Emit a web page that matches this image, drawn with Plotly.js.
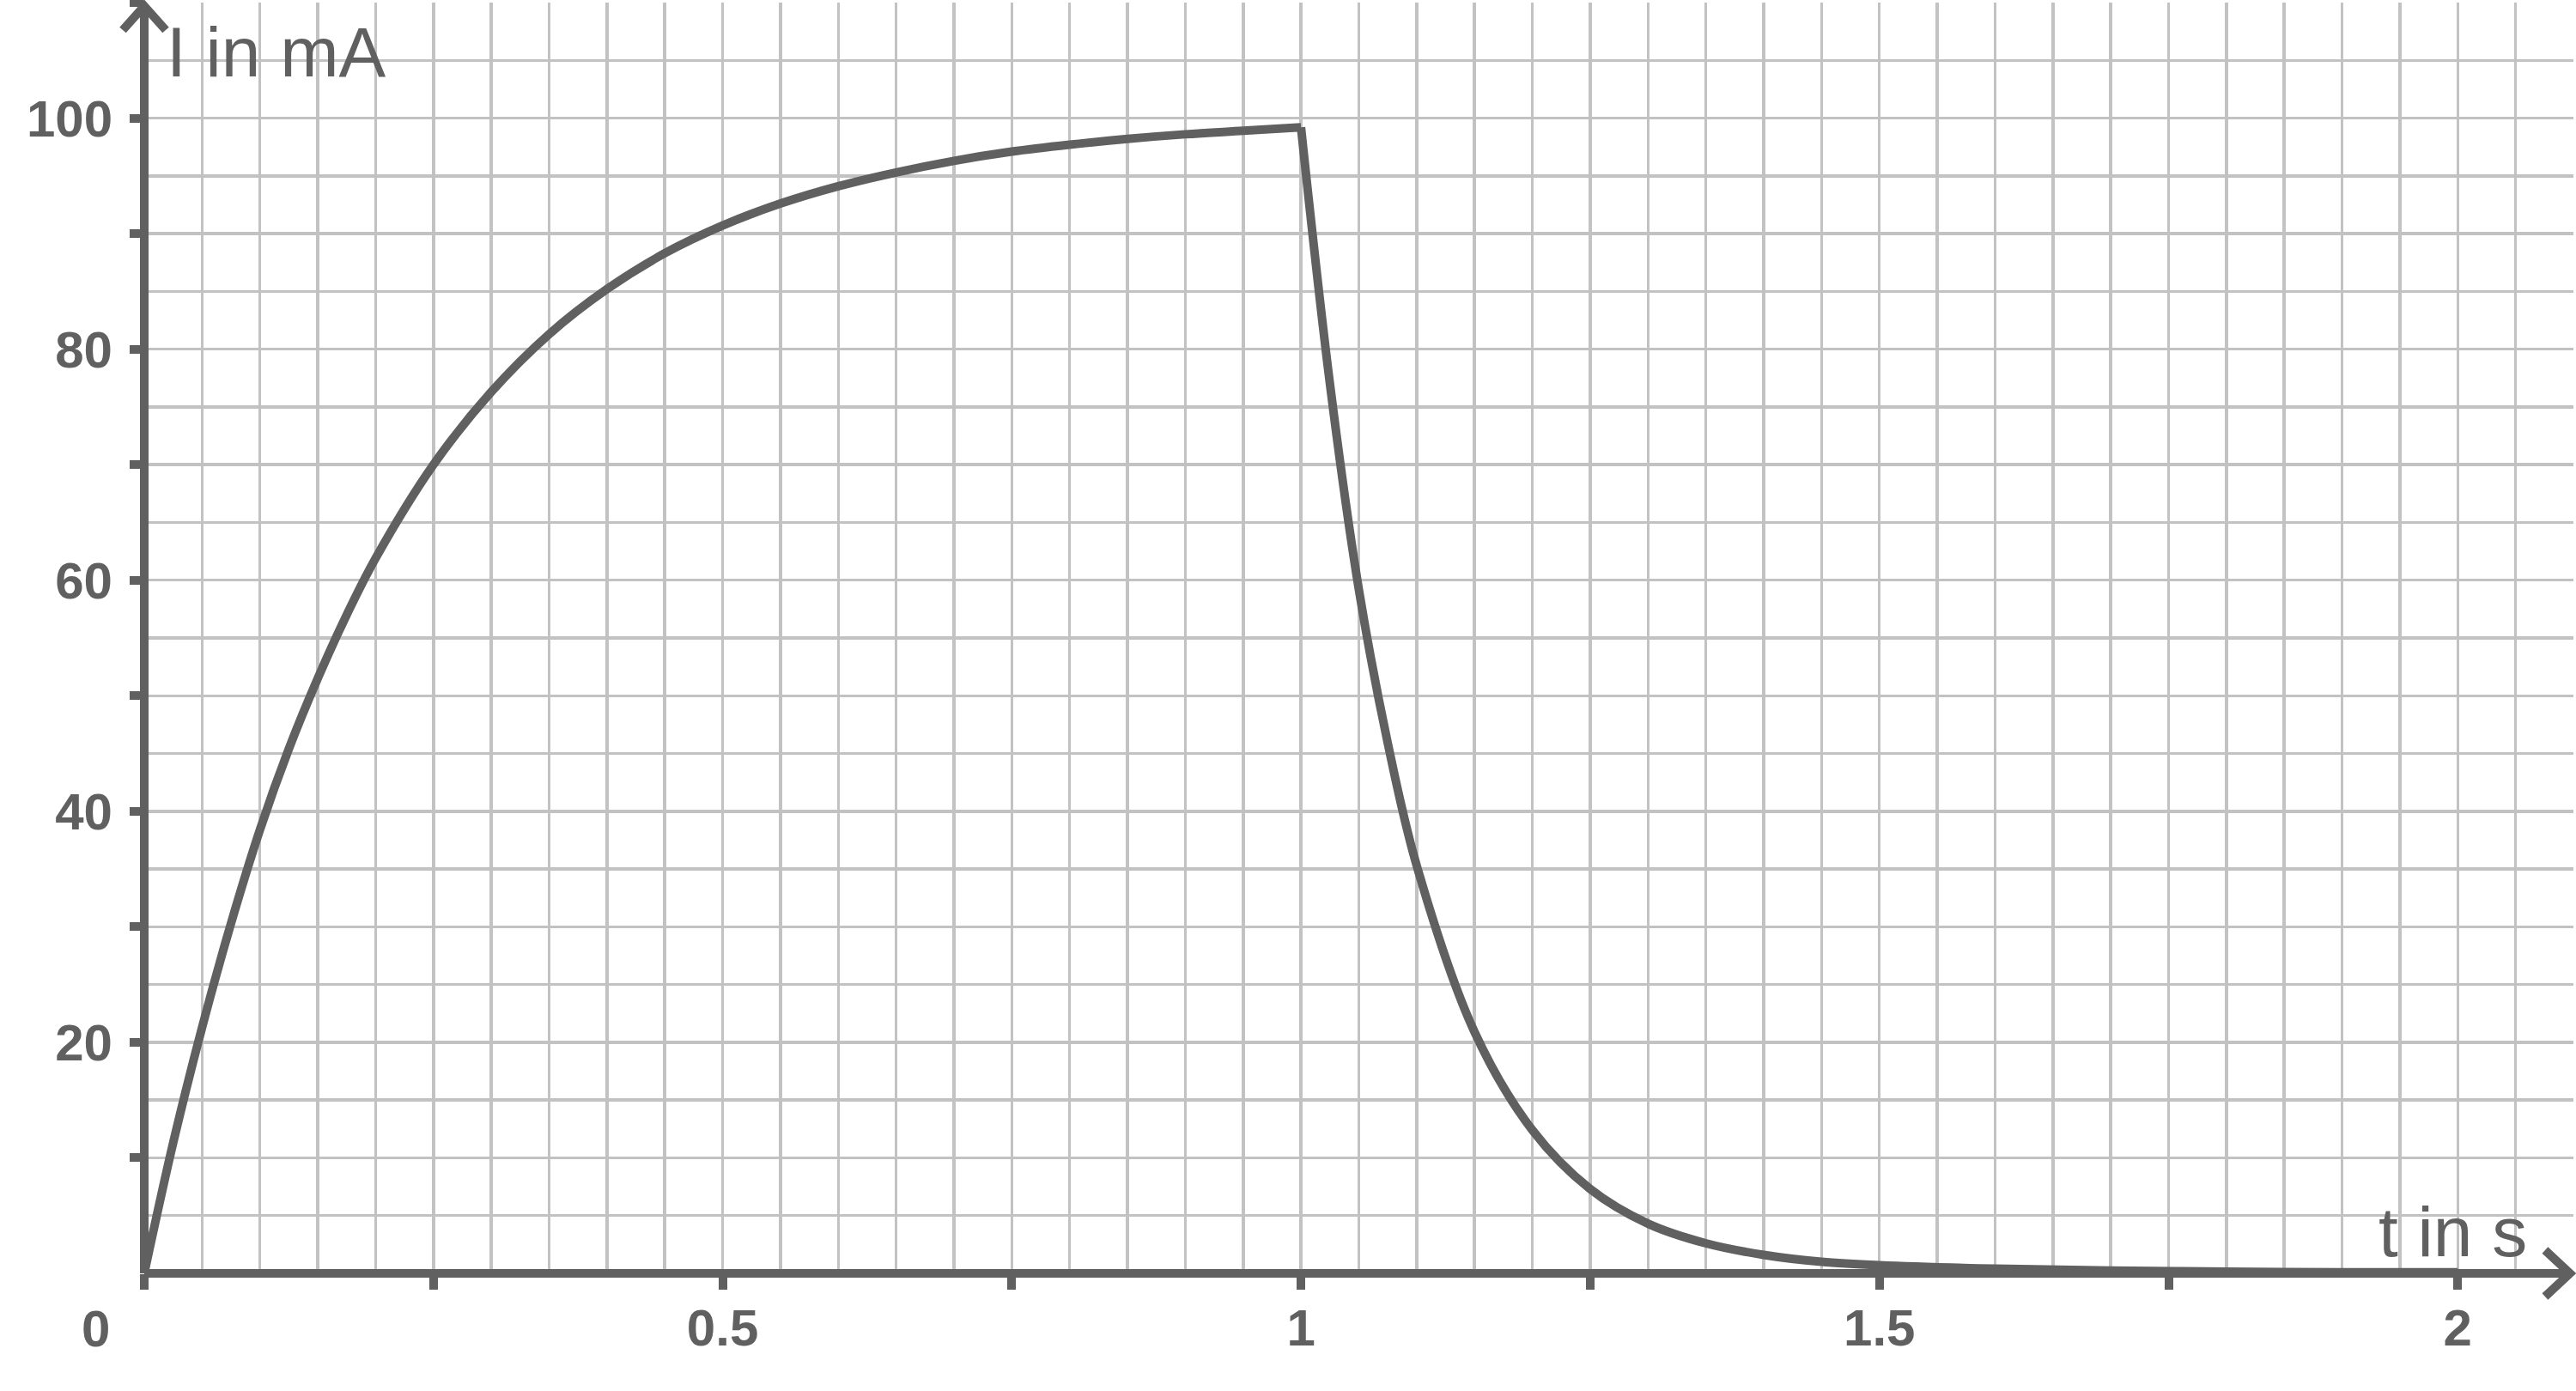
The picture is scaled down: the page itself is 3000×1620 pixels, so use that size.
<!DOCTYPE html>
<html>
<head>
<meta charset="utf-8">
<script src="https://cdn.plot.ly/plotly-3.0.1.min.js"></script>
<style>
  html, body { margin: 0; padding: 0; background: #ffffff; }
  #myPlot { width: 3000px; height: 1620px; }
</style>
</head>
<body>
<div id="myPlot"></div>
<script>
// current while the switch is closed (t in s, I in mA)
const chargeT = [0, 0.025, 0.05, 0.075, 0.1, 0.125, 0.15, 0.175, 0.2, 0.25, 0.3, 0.35, 0.4,
                 0.45, 0.5, 0.55, 0.6, 0.65, 0.7, 0.75, 0.8, 0.85, 0.9, 0.95, 1.0];
const chargeI = [0, 11.3, 21.3, 30.3, 38.4, 45.4, 51.5, 57.0, 61.9, 70.0, 76.3, 81.3, 85.2,
                 88.3, 90.7, 92.6, 94.1, 95.3, 96.3, 97.1, 97.7, 98.2, 98.6, 98.9, 99.2];

// current after switching off
const dischargeT = [1.0, 1.025, 1.05, 1.075, 1.1, 1.15, 1.2, 1.25, 1.3, 1.35, 1.4,
                    1.45, 1.5, 1.6, 1.7, 1.8, 1.9, 2.0];
const dischargeI = [99.2, 77.0, 59.2, 45.9, 35.3, 20.9, 12.4, 7.3, 4.3, 2.6, 1.6,
                    1.0, 0.7, 0.4, 0.25, 0.15, 0.1, 0.1];

// axis ticks and labels
const xTickVals = [0, 0.25, 0.5, 0.75, 1, 1.25, 1.5, 1.75, 2];
const xTickText = ['', '', '0.5', '', '1', '', '1.5', '', '2'];
const yTickVals = [10, 20, 30, 40, 50, 60, 70, 80, 90, 100, 110];
const yTickText = ['', '20', '', '40', '', '60', '', '80', '', '100', ''];

const X_MAX = 2.1;
const Y_MAX = 110;
const X_TIP = 2.097;   // arrow tip of the t axis
const Y_TIP = 109.7;   // arrow tip of the I axis

const GREY = '#606060';
const GRID = '#c2c2c2';

// plot area size in px (used to turn arrow wing lengths into paper units)
const margin = { l: 168, r: 3, t: 3, b: 137 };
const plotW = 3000 - margin.l - margin.r;
const plotH = 1620 - margin.t - margin.b;

const lineStyle = { color: GREY, width: 10, shape: 'spline', smoothing: 1 };

let trace1 = {
    x: chargeT,
    y: chargeI,
    mode: 'lines',
    line: lineStyle,
    hoverinfo: 'skip'
};

let trace2 = {
    x: dischargeT,
    y: dischargeI,
    mode: 'lines',
    line: lineStyle,
    hoverinfo: 'skip'
};

let data = [trace1, trace2];

const tickFont = { family: 'Liberation Sans, Arial, sans-serif', size: 60, color: GREY, weight: 'bold' };
const titleFont = { family: 'Liberation Sans, Arial, sans-serif', size: 82, color: GREY };

// axis lines with open arrow heads, in paper units
const xt = X_TIP / X_MAX;
const yt = Y_TIP / Y_MAX;
const axisLine = { color: GREY, width: 10 };
let shapes = [
    { type: 'line', xref: 'paper', yref: 'paper', x0: 0, y0: 0, x1: xt, y1: 0, line: axisLine, layer: 'above' },
    { type: 'line', xref: 'paper', yref: 'paper', x0: 0, y0: 0, x1: 0, y1: yt, line: axisLine, layer: 'above' },
    {
        type: 'path', xref: 'paper', yref: 'paper', layer: 'above', line: axisLine,
        path: 'M ' + (xt - 29 / plotW) + ' ' + (27 / plotH) +
              ' L ' + xt + ' 0' +
              ' L ' + (xt - 29 / plotW) + ' ' + (-27 / plotH)
    },
    {
        type: 'path', xref: 'paper', yref: 'paper', layer: 'above', line: axisLine,
        path: 'M ' + (-25 / plotW) + ' ' + (yt - 28 / plotH) +
              ' L 0 ' + yt +
              ' L ' + (25 / plotW) + ' ' + (yt - 28 / plotH)
    }
];

let annotations = [
    { text: 'I in mA', x: 0.018, y: 105.7, xref: 'x', yref: 'y', xanchor: 'left', yanchor: 'middle', showarrow: false, font: titleFont },
    { text: 't in s', x: 1.996, y: 3.6, xref: 'x', yref: 'y', xanchor: 'center', yanchor: 'middle', showarrow: false, font: titleFont },
    // origin label sits left of the axis corner
    { text: '0', x: -57 / plotW, y: -64 / plotH, xref: 'paper', yref: 'paper', xanchor: 'center', yanchor: 'middle', showarrow: false, font: tickFont }
];

let layout = {
    width: 3000,
    height: 1620,
    margin: margin,
    paper_bgcolor: '#ffffff',
    plot_bgcolor: '#ffffff',
    showlegend: false,
    hovermode: false,
    xaxis: {
        range: [0, X_MAX],
        tickmode: 'array',
        tickvals: xTickVals,
        ticktext: xTickText,
        ticks: 'outside',
        ticklen: 18,
        tickwidth: 10,
        tickcolor: GREY,
        tickfont: tickFont,
        ticklabelstandoff: -7,
        showgrid: true,
        gridcolor: GRID,
        gridwidth: 3.5,
        minor: { tickmode: 'linear', tick0: 0, dtick: 0.05, showgrid: true, gridcolor: GRID, gridwidth: 3.5 },
        zeroline: false,
        showline: false,
        fixedrange: true
    },
    yaxis: {
        range: [0, Y_MAX],
        tickmode: 'array',
        tickvals: yTickVals,
        ticktext: yTickText,
        ticks: 'outside',
        ticklen: 16,
        tickwidth: 10,
        tickcolor: GREY,
        tickfont: tickFont,
        ticklabelstandoff: 8,
        showgrid: true,
        gridcolor: GRID,
        gridwidth: 3.5,
        minor: { tickmode: 'linear', tick0: 0, dtick: 5, showgrid: true, gridcolor: GRID, gridwidth: 3.5 },
        zeroline: false,
        showline: false,
        fixedrange: true
    },
    shapes: shapes,
    annotations: annotations
};

Plotly.newPlot('myPlot', data, layout, { displayModeBar: false, staticPlot: true });
</script>
</body>
</html>
